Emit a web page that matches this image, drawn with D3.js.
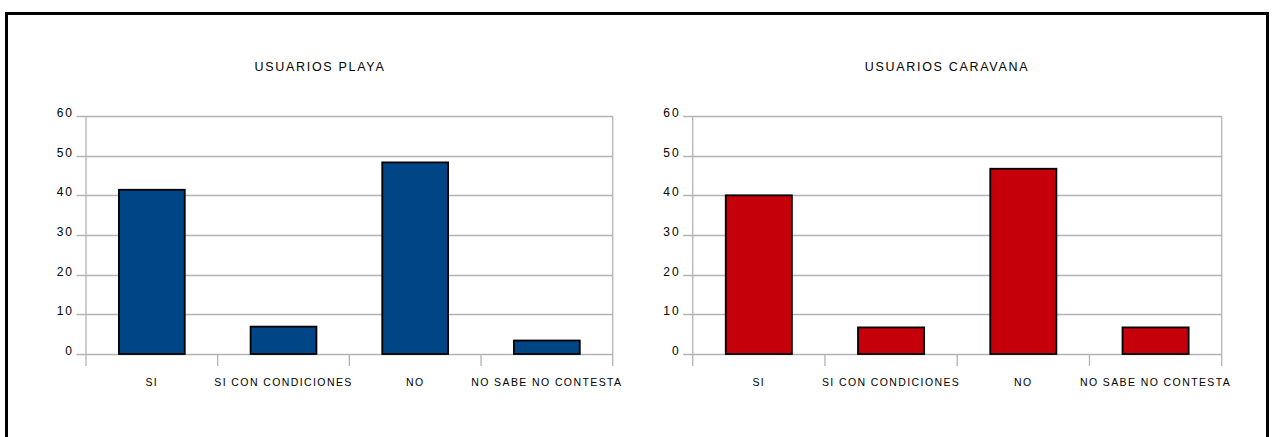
<!DOCTYPE html>
<html>
<head>
<meta charset="utf-8">
<script src="https://cdn.jsdelivr.net/npm/d3@7"></script>
<style>
  html, body { margin: 0; padding: 0; background: #fff; }
  svg { display: block; }
  text { font-family: "Liberation Sans", Arial, sans-serif; fill: #000; }
</style>
</head>
<body>
<svg id="chart" width="1272" height="437"></svg>
<script>
const categories = ["SI", "SI CON CONDICIONES", "NO", "NO SABE NO CONTESTA"];
const playaValues = [41.4, 6.9, 48.3, 3.4];
const caravanaValues = [40, 6.7, 46.7, 6.7];
const yTicks = [0, 10, 20, 30, 40, 50, 60];
const titles = ["USUARIOS PLAYA", "USUARIOS CARAVANA"];
const colors = ["#004586", "#c5000b"];

const svg = d3.select("#chart");

// outer frame
svg.append("rect")
  .attr("x", 6.5).attr("y", 13.5)
  .attr("width", 1261).attr("height", 500)
  .attr("fill", "none").attr("stroke", "#000").attr("stroke-width", 3);

const panels = [
  { title: titles[0], values: playaValues, color: colors[0], left: 86, right: 612.7, titleX: 320 },
  { title: titles[1], values: caravanaValues, color: colors[1], left: 692.7, right: 1221.7, titleX: 947 }
];

panels.forEach(p => {
  const g = svg.append("g");
  const y = d3.scaleLinear().domain([0, 60]).range([354, 116]);
  const x = d3.scaleBand().domain(categories).range([p.left, p.right])
    .paddingInner(0.5).paddingOuter(0.25);
  const step = x.step();

  // title
  g.append("text")
    .attr("x", p.titleX).attr("y", 71)
    .attr("text-anchor", "middle")
    .style("font-size", "12.5px")
    .style("letter-spacing", "1.7px")
    .text(p.title);

  // gridlines + y ticks
  g.selectAll(".grid").data(yTicks).join("line")
    .attr("x1", p.left - 9.5).attr("x2", p.right)
    .attr("y1", d => Math.round(y(d)) + 0.5).attr("y2", d => Math.round(y(d)) + 0.5)
    .attr("stroke", "#b3b3b3").attr("stroke-width", 1.3);

  g.selectAll(".ylab").data(yTicks).join("text")
    .attr("x", p.left - 12).attr("y", d => Math.round(y(d)) + 0.5)
    .attr("text-anchor", "end")
    .style("font-size", "12px")
    .style("letter-spacing", "2px")
    .text(d => d);

  // y axis line and right frame line
  [p.left, p.right].forEach(xx => {
    g.append("line")
      .attr("x1", xx).attr("x2", xx)
      .attr("y1", y(60)).attr("y2", y(0) + 12)
      .attr("stroke", "#b3b3b3").attr("stroke-width", 1.3);
  });

  // category ticks at band boundaries
  const boundaries = d3.range(1, categories.length).map(i => x(categories[0]) - step * 0.25 + i * step);
  g.selectAll(".ctick").data(boundaries).join("line")
    .attr("x1", d => d).attr("x2", d => d)
    .attr("y1", y(0)).attr("y2", y(0) + 12)
    .attr("stroke", "#b3b3b3").attr("stroke-width", 1.3);

  // bars
  g.selectAll(".bar").data(p.values).join("rect")
    .attr("x", (d, i) => x(categories[i]))
    .attr("y", d => y(d))
    .attr("width", x.bandwidth())
    .attr("height", d => y(0) - y(d))
    .attr("fill", p.color)
    .attr("stroke", "#000").attr("stroke-width", 1.8);

  // category labels
  g.selectAll(".xlab").data(categories).join("text")
    .attr("x", d => x(d) + x.bandwidth() / 2)
    .attr("y", 386)
    .attr("text-anchor", "middle")
    .style("font-size", "10.5px")
    .style("letter-spacing", "1.4px")
    .text(d => d);
});
</script>
</body>
</html>
